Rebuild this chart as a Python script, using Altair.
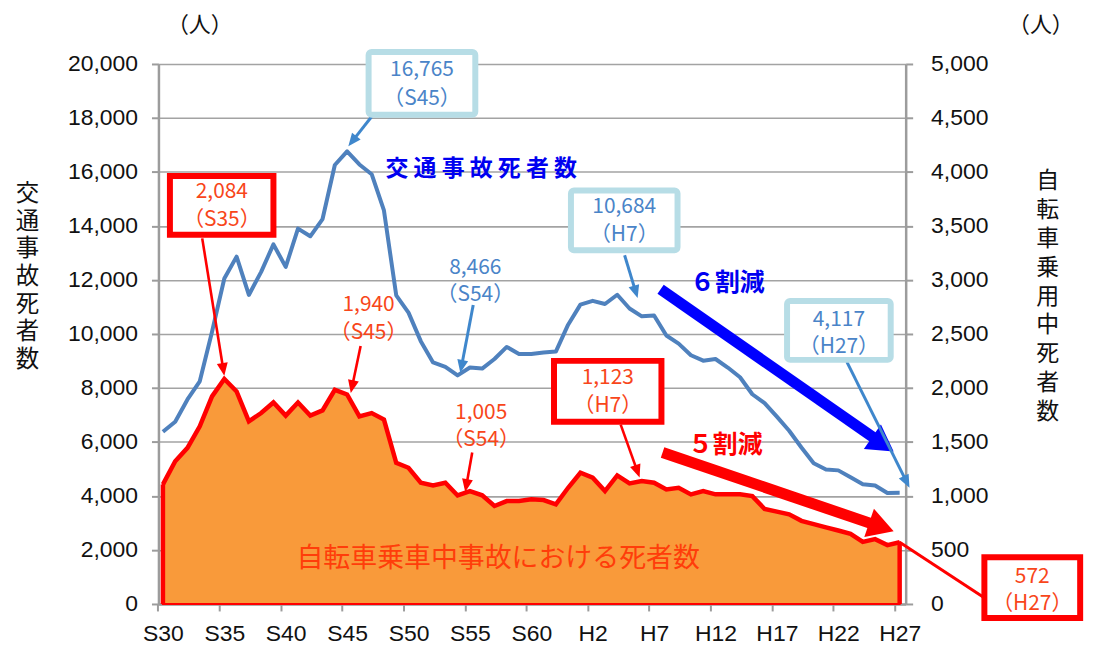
import math
import altair as alt
import pandas as pd

# ---------------- data ----------------
years = list(range(1955, 2016))
traffic_deaths = [6379, 6751, 7575, 8248, 10079, 12055, 12865, 11445, 12301, 13318,
                  12484, 13904, 13618, 14256, 16257, 16765, 16278, 15918, 14574, 11432,
                  10792, 9734, 8945, 8783, 8466, 8760, 8719, 9073, 9520, 9262,
                  9261, 9317, 9347, 10344, 11086, 11227, 11109, 11452, 10945, 10653,
                  10684, 9943, 9642, 9214, 9012, 9073, 8757, 8396, 7768, 7436,
                  6937, 6415, 5796, 5209, 4979, 4948, 4691, 4438, 4388, 4113, 4117]
bicycle_deaths = [1107, 1322, 1446, 1645, 1922, 2084, 1968, 1691, 1768, 1866,
                  1744, 1866, 1744, 1792, 1983, 1940, 1737, 1768, 1707, 1307,
                  1261, 1123, 1098, 1123, 1005, 1045, 1006, 907, 953, 953,
                  969, 962, 923, 1076, 1215, 1169, 1045, 1190, 1116, 1138,
                  1123, 1061, 1076, 1015, 1045, 1015, 1015, 1015, 999, 880,
                  855, 830, 770, 740, 710, 680, 650, 575, 600, 545, 572]

x_tick_years = [1955, 1960, 1965, 1970, 1975, 1980, 1985, 1990, 1995, 2000, 2005, 2010, 2015]
x_tick_labels = ["S30", "S35", "S40", "S45", "S50", "S55", "S60", "H2", "H7", "H12", "H17", "H22", "H27"]
left_ticks = list(range(0, 20001, 2000))
right_ticks = list(range(0, 5001, 500))
left_title = ["交", "通", "事", "故", "死", "者", "数"]
right_title = ["自", "転", "車", "乗", "用", "中", "死", "者", "数"]

# annotation content (positions in data units: year, left-axis persons)
blue_box_x = [1971.75, 1988.23, 2005.83]
blue_box_x2 = [1980.44, 1996.91, 2014.27]
blue_box_y = [20443, 15314, 11218]
blue_box_y2 = [18118, 13100, 9041]

red_box_x = [1955.57, 1986.85, 2021.9]
red_box_x2 = [1964.0, 1995.6, 2029.7]
red_box_y = [15849, 9004, 1734]
red_box_y2 = [13671, 6753, -517]

blue_txt = ["16,765", "（S45）", "8,466", "（S54）", "10,684", "（H7）", "4,117", "（H27）"]
blue_txt_x = [1976.1, 1976.1, 1980.44, 1980.44, 1992.57, 1992.57, 2010.05, 2010.05]
blue_txt_y = [19778, 18708, 12435, 11439, 14686, 13653, 10517, 9520]

red_txt = ["2,084", "（S35）", "1,940", "（S45）", "1,005", "（S54）", "1,123", "（H7）", "572", "（H27）"]
red_txt_x = [1959.8, 1959.8, 1971.75, 1971.75, 1980.92, 1980.92, 1991.23, 1991.23, 2025.8, 2025.8]
red_txt_y = [15240, 14207, 11070, 10037, 7085, 6089, 8376, 7343, 996, 0]

blue_arrow = dict(x1=[1971.99, 1980.27, 1992.6, 2010.7], y1=[18044, 11070, 12915, 8967],
                  x2=[1970.1, 1979.22, 1993.66, 2015.8], y2=[16950, 8560, 11328, 4306])
red_arrow = dict(x1=[1958.2, 1971.1, 1980.19, 1992.28], y1=[13542, 9557, 5609, 6642],
                 x2=[1960.0, 1970.3, 1979.62, 1993.82], y2=[8450, 7810, 4150, 4686])
red_leader = dict(x1=[2015.0], y1=[2288], x2=[2021.8], y2=[258])
big_blue_arrow = dict(x1=[1995.53], y1=[11660], x2=[2014.51], y2=[5646])
big_red_arrow = dict(x1=[1995.69], y1=[5609], x2=[2014.51], y2=[2694])

# ---------------- layout ----------------
W, H = 750, 542
X_DOMAIN = [1954.635, 2015.49]
PX_YR = W / (X_DOMAIN[1] - X_DOMAIN[0])
PX_VAL = H / 20000.0

GRAY = "#9c9c9c"
BLUE_LINE = "#4F81BD"
CALL_BLUE = "#4A84C8"
ARROW_BLUE = "#3F87CC"
BOX_BLUE = "#B7DDE6"
RED = "#FF0000"
CALL_RED = "#F8461A"
ORANGE = "#F99A3A"
NUM_FONT = "Liberation Sans"
JP_FONT = "Noto Sans CJK JP"

label_expr = "[" + ",".join("'%s'" % s for s in x_tick_labels) + "][round((datum.value-1955)/5)]"
num_expr = "format(datum.value, ',')"

X_AXIS = alt.Axis(values=x_tick_years, labelExpr=label_expr, title=None, grid=False,
                  domainColor=GRAY, domainWidth=2.5, tickColor=GRAY, tickWidth=2, tickSize=7,
                  tickOffset=-5, labelOffset=5, labelFont=NUM_FONT, labelFontSize=23,
                  labelColor="#111111", labelPadding=12, labelFlush=False, labelOverlap=False)
YL_AXIS = alt.Axis(values=left_ticks, labelExpr=num_expr, grid=True, gridColor="#a3a3a3", gridWidth=1.6,
                   domainColor=GRAY, domainWidth=2.5, tickColor=GRAY, tickWidth=2, tickSize=7,
                   labelFont=NUM_FONT, labelFontSize=23, labelColor="#111111", labelPadding=14,
                   labelOverlap=False, labelFlush=False,
                   title=left_title, titleAngle=0, titleX=-132, titleY=130, titleAlign="center",
                   titleBaseline="middle", titleFont=JP_FONT, titleFontSize=23.5,
                   titleFontWeight="normal", titleLineHeight=27.8, titleColor="#111111")
YR_AXIS = alt.Axis(values=right_ticks, labelExpr=num_expr, grid=False, orient="right",
                   domainColor=GRAY, domainWidth=2.5, tickColor=GRAY, tickWidth=2, tickSize=7,
                   labelFont=NUM_FONT, labelFontSize=23, labelColor="#111111", labelPadding=18,
                   labelOverlap=False, labelFlush=False,
                   title=right_title, titleAngle=0, titleX=142, titleY=117, titleAlign="center",
                   titleBaseline="middle", titleFont=JP_FONT, titleFontSize=23,
                   titleFontWeight="normal", titleLineHeight=29, titleColor="#111111")

XS = alt.Scale(domain=X_DOMAIN, nice=False, zero=False)
YLS = alt.Scale(domain=[0, 20000], nice=False)
YRS = alt.Scale(domain=[0, 5000], nice=False)


def XE(f):
    return alt.X(f, type="quantitative", scale=XS, axis=X_AXIS)


def YL(f):
    return alt.Y(f, type="quantitative", scale=YLS, axis=YL_AXIS)


def YR(f):
    return alt.Y(f, type="quantitative", scale=YRS, axis=YR_AXIS)


df = pd.DataFrame({"year": years, "traffic": traffic_deaths, "bike": bicycle_deaths})
df["base"] = 0
edges = df.iloc[[0, -1]]

# ---------------- right-scale group (bicycle deaths) ----------------
area = alt.Chart(df).mark_area(color=ORANGE, stroke=RED, strokeWidth=2, opacity=1).encode(
    x=XE("year"), y=YR("bike"))
area_top = alt.Chart(df).mark_line(color=RED, strokeWidth=4.5, strokeJoin="miter").encode(
    x=XE("year"), y=YR("bike"))
area_edges = alt.Chart(edges).mark_rule(color=RED, strokeWidth=4.5).encode(
    x=XE("year"), y=YR("base"), y2="bike")
right_group = alt.layer(area, area_top, area_edges)

# ---------------- left-scale group ----------------
blue_line = alt.Chart(df).mark_line(color=BLUE_LINE, strokeWidth=4, strokeJoin="round").encode(
    x=XE("year"), y=YL("traffic"))


def boxes(xs, x2s, ys, y2s, stroke, sw, radius=0):
    d = pd.DataFrame({"x": xs, "x2": x2s, "y": ys, "y2": y2s})
    return alt.Chart(d).mark_rect(fill="white", stroke=stroke, strokeWidth=sw,
                                  cornerRadius=radius).encode(
        x=XE("x"), x2="x2", y=YL("y"), y2="y2")


def texts(ts, xs, ys, color, size, weight="normal", font=JP_FONT):
    d = pd.DataFrame({"t": ts, "x": xs, "y": ys})
    return alt.Chart(d).mark_text(font=font, fontSize=size, fontWeight=weight, color=color,
                                  align="center", baseline="middle").encode(
        x=XE("x"), y=YL("y"), text="t:N")


def arrows(spec, color, width, head_len=0.0, head_w=0.0):
    rows, heads = [], []
    for a, b, c, d in zip(spec["x1"], spec["y1"], spec["x2"], spec["y2"]):
        dx = (c - a) * PX_YR
        dy = -(d - b) * PX_VAL
        n = math.hypot(dx, dy)
        ux, uy = dx / n, dy / n
        ang = math.degrees(math.atan2(ux, -uy)) % 360
        back = head_len * 0.85
        rows.append({"x": a, "y": b, "x2": c - ux * back / PX_YR, "y2": d + uy * back / PX_VAL})
        heads.append({"x": c, "y": d, "ang": ang})
    line = alt.Chart(pd.DataFrame(rows)).mark_rule(color=color, strokeWidth=width,
                                                   strokeCap="butt").encode(
        x=XE("x"), y=YL("y"), x2="x2", y2="y2")
    if head_len <= 0:
        return [line]
    hw = head_w / head_len
    path = "M0,0L%.3f,2L%.3f,2Z" % (hw, -hw)
    head = alt.Chart(pd.DataFrame(heads)).mark_point(
        shape=path, size=head_len ** 2, filled=True, color=color, opacity=1, strokeWidth=0).encode(
        x=XE("x"), y=YL("y"), angle=alt.Angle("ang:Q", scale=None))
    return [line, head]


left_layers = [blue_line]
left_layers += arrows(big_blue_arrow, "#0000FF", 11, 26, 30)
left_layers += arrows(big_red_arrow, RED, 11, 26, 30)
left_layers += arrows(blue_arrow, ARROW_BLUE, 3, 13, 11)
left_layers += arrows(red_arrow, RED, 2.6, 13, 11)
left_layers += arrows(red_leader, RED, 3)
left_layers += [
    boxes(blue_box_x, blue_box_x2, blue_box_y, blue_box_y2, BOX_BLUE, 6, 3),
    boxes(red_box_x, red_box_x2, red_box_y, red_box_y2, RED, 6, 0),
    texts(blue_txt, blue_txt_x, blue_txt_y, CALL_BLUE, 21),
    texts(red_txt, red_txt_x, red_txt_y, CALL_RED, 21),
    texts(["交 通 事 故 死 者 数"], [1980.92], [16125], "#0000F0", 23, "bold"),
    texts(["６割減"], [2000.97], [11882], "#0000F0", 25, "bold"),
    texts(["５割減"], [2000.8], [5904], RED, 25, "bold"),
    texts(["自転車乗車中事故における死者数"], [1982.3], [1660], "#FF3D0A", 27),
    texts(["（人）", "（人）"], [1958.0, 2026.5], [21430, 21430], "#111111", 22),
]
left_group = alt.layer(*left_layers)

chart = alt.layer(right_group, left_group).resolve_scale(y="independent").properties(
    width=W, height=H,
    autosize=alt.AutoSizeParams(type="none"),
    padding={"left": 151, "top": 55, "right": 183, "bottom": 42},
    background="white",
).configure_view(stroke=None)

chart.save("out.html", embed_options={"renderer": "svg", "actions": False})
